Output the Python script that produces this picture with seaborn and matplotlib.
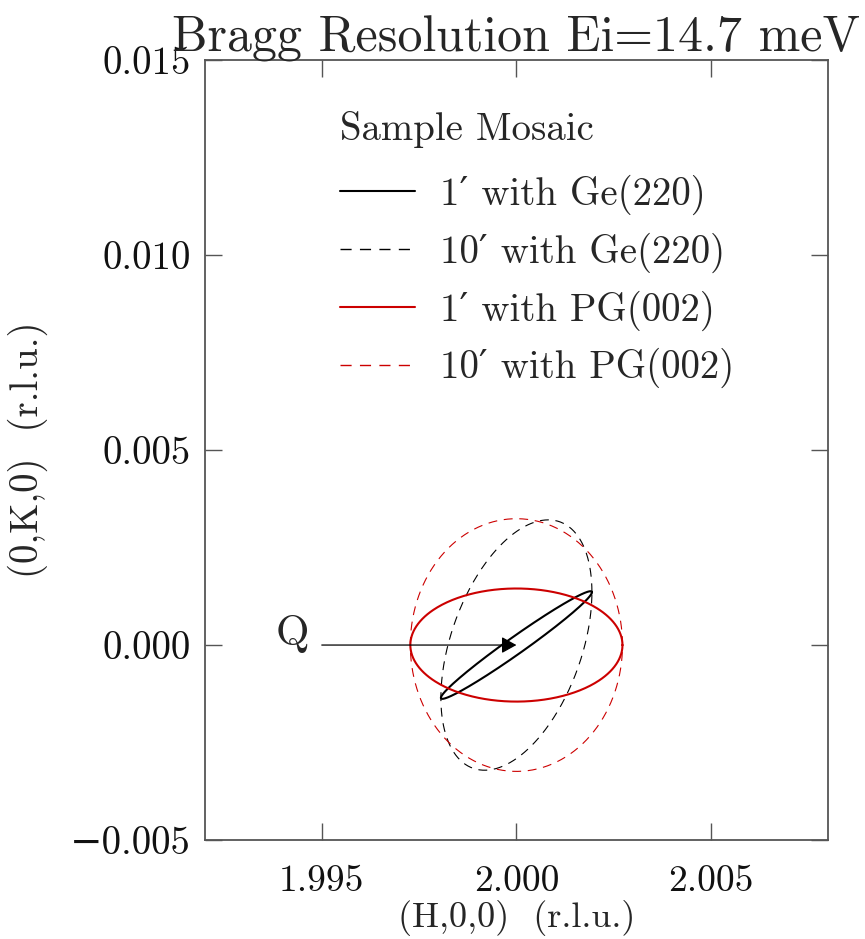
import numpy as np
import pandas as pd
import seaborn as sns
import matplotlib.pyplot as plt
from matplotlib.lines import Line2D
from matplotlib.ticker import FuncFormatter

# ======================================================
# DATOS (elipses de resolucion, unidades r.l.u.)
# ======================================================

labels = ["1\u2032 with Ge(220)", "10\u2032 with Ge(220)",
          "1\u2032 with PG(002)", "10\u2032 with PG(002)"]
centro_h = [2.000, 2.000, 2.000, 2.000]
centro_k = [0.000, 0.000, 0.000, 0.000]
semi_h = [0.00194, 0.00194, 0.002725, 0.002725]   # medio ancho en H
semi_k = [0.00138, 0.00321, 0.00145, 0.00324]     # medio alto en K
correl = [0.981, 0.422, 0.0, 0.0]                 # correlacion H-K

colores = ["black", "black", "#cc0000", "#cc0000"]
anchos = [1.5, 0.8, 1.5, 0.8]
estilos = ["solid", (0, (8, 6)), "solid", (0, (8, 6))]

q_inicio = (1.995, 0.0)
q_fin = (2.000, 0.0)

xticks = [1.995, 2.000, 2.005]
yticks = [-0.005, 0.000, 0.005, 0.010, 0.015]

# ======================================================
# ESTILO
# ======================================================

sns.set_theme(style="ticks")
plt.rcParams["font.family"] = ["cmr10", "DejaVu Serif"]
plt.rcParams["axes.formatter.use_mathtext"] = True

fig = plt.figure(figsize=(8.65, 9.39), dpi=100)
ax = fig.add_axes([0.237, 0.1054, 0.72, 0.8306])

# ======================================================
# ELIPSES
# ======================================================

t = np.linspace(0, 2 * np.pi, 400)
for i in range(len(labels)):
    cov = np.array([[semi_h[i] ** 2, correl[i] * semi_h[i] * semi_k[i]],
                    [correl[i] * semi_h[i] * semi_k[i], semi_k[i] ** 2]])
    L = np.linalg.cholesky(cov + np.eye(2) * 1e-14)
    pts = L @ np.vstack([np.cos(t), np.sin(t)])
    df = pd.DataFrame({"H": centro_h[i] + pts[0], "K": centro_k[i] + pts[1]})
    sns.lineplot(data=df, x="H", y="K", sort=False, estimator=None,
                 color=colores[i], linewidth=anchos[i], linestyle=estilos[i],
                 ax=ax)

# flecha Q
ax.annotate("", xy=q_fin, xytext=q_inicio,
            arrowprops=dict(arrowstyle="-|>,head_length=0.45,head_width=0.25",
                            mutation_scale=20, color="black", lw=0.9,
                            shrinkA=0, shrinkB=0))
ax.text(1.99467, 0.0, "Q", fontsize=31, ha="right", va="baseline")

# ======================================================
# EJES
# ======================================================

ax.set_xlim(1.992, 2.008)
ax.set_ylim(-0.005, 0.015)
ax.set_xticks(xticks)
ax.set_yticks(yticks)
fmt = FuncFormatter(lambda v, p: ("%.3f" % v).replace("-", "\u2212"))
ax.xaxis.set_major_formatter(fmt)
ax.yaxis.set_major_formatter(fmt)
ax.tick_params(direction="in", length=12, width=1, colors="#555555",
               labelcolor="#111111", labelsize=28, top=True, right=True)
ax.tick_params(axis="x", pad=18, labelsize=27)
ax.tick_params(axis="y", pad=10)
for s in ax.spines.values():
    s.set_color("#555555")
    s.set_linewidth(1.3)

ax.set_xlabel("(H,0,0)  (r.l.u.)", fontsize=26)
ax.set_ylabel("(0,K,0)  (r.l.u.)", fontsize=28)
ax.xaxis.set_label_coords(0.5, -0.077)
ax.yaxis.set_label_coords(-0.252, 0.5)
ax.set_title("Bragg Resolution Ei=14.7 meV", fontsize=36, pad=6)

# ======================================================
# LEYENDA
# ======================================================

ax.text(0.217, 0.897, "Sample Mosaic", fontsize=28, ha="left",
        va="baseline", transform=ax.transAxes)

handles = [Line2D([0], [0], color=colores[i], lw=max(anchos[i], 1.0),
                  linestyle=estilos[i]) for i in range(len(labels))]
leg = ax.legend(handles, labels, loc="upper left",
                bbox_to_anchor=(0.217, 0.853), frameon=False, fontsize=28,
                borderpad=0, borderaxespad=0, handlelength=1.93,
                handletextpad=0.64, labelspacing=0.45)

fig.savefig("out.png", dpi=100)
